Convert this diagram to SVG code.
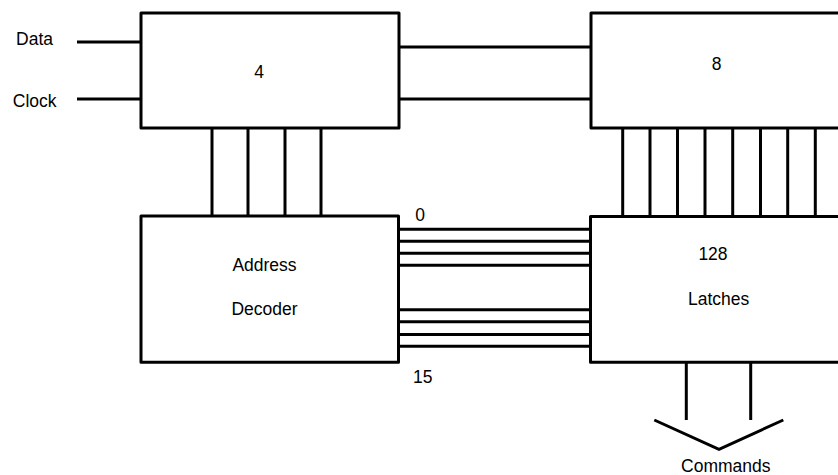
<svg xmlns="http://www.w3.org/2000/svg" width="838" height="475" viewBox="0 0 838 475">
<style>
.box{fill:#fff;stroke:#000;stroke-width:3;stroke-linejoin:round}
.w{stroke:#000;stroke-width:3;fill:none}
text{font-family:"Liberation Sans",Arial,sans-serif;font-size:17.5px;fill:#000;text-anchor:middle}
</style>
<rect width="838" height="475" fill="#fff"/>
<g id="connectors">
<line class="w" x1="77" y1="42" x2="141" y2="42"/>
<line class="w" x1="77" y1="99" x2="141" y2="99"/>
<line class="w" x1="399" y1="47" x2="591" y2="47"/>
<line class="w" x1="399" y1="99" x2="591" y2="99"/>
<line class="w" x1="212" y1="128" x2="212" y2="216"/>
<line class="w" x1="248" y1="128" x2="248" y2="216"/>
<line class="w" x1="285" y1="128" x2="285" y2="216"/>
<line class="w" x1="321" y1="128" x2="321" y2="216"/>
<line class="w" x1="622.7" y1="128" x2="622.7" y2="216"/>
<line class="w" x1="650" y1="128" x2="650" y2="216"/>
<line class="w" x1="677.5" y1="128" x2="677.5" y2="216"/>
<line class="w" x1="705" y1="128" x2="705" y2="216"/>
<line class="w" x1="732.7" y1="128" x2="732.7" y2="216"/>
<line class="w" x1="760.5" y1="128" x2="760.5" y2="216"/>
<line class="w" x1="787.7" y1="128" x2="787.7" y2="216"/>
<line class="w" x1="815.3" y1="128" x2="815.3" y2="216"/>
<line class="w" x1="398" y1="229.3" x2="590" y2="229.3"/>
<line class="w" x1="398" y1="241.3" x2="590" y2="241.3"/>
<line class="w" x1="398" y1="253.3" x2="590" y2="253.3"/>
<line class="w" x1="398" y1="265.3" x2="590" y2="265.3"/>
<line class="w" x1="398" y1="309.7" x2="590" y2="309.7"/>
<line class="w" x1="398" y1="321.7" x2="590" y2="321.7"/>
<line class="w" x1="398" y1="334.5" x2="590" y2="334.5"/>
<line class="w" x1="398" y1="346.3" x2="590" y2="346.3"/>
<line class="w" x1="686.3" y1="362" x2="686.3" y2="420"/>
<line class="w" x1="750.7" y1="362" x2="750.7" y2="420"/>
<polyline class="w" points="654.3,420 719,449.3 783.3,420"/>
</g>
<g id="input-labels">
<text x="34.5" y="45">Data</text>
<text x="34.7" y="106.5">Clock</text>
</g>
<g id="shift4">
<rect class="box" x="141" y="13" width="258" height="115"/>
<text x="259" y="77.5">4</text>
</g>
<g id="shift8">
<rect class="box" x="591" y="13" width="270" height="115"/>
<text x="716.7" y="70">8</text>
</g>
<g id="decoder">
<rect class="box" x="141" y="216" width="257.5" height="146.3"/>
<text x="264.5" y="271">Address</text>
<text x="264.5" y="315">Decoder</text>
</g>
<g id="latches">
<rect class="box" x="590.5" y="216.5" width="270" height="145.8"/>
<text x="713" y="260">128</text>
<text x="718.7" y="305">Latches</text>
</g>
<g id="line-labels">
<text x="420" y="220.7">0</text>
<text x="422.7" y="382.7">15</text>
<text x="725.8" y="471.7">Commands</text>
</g>
</svg>
